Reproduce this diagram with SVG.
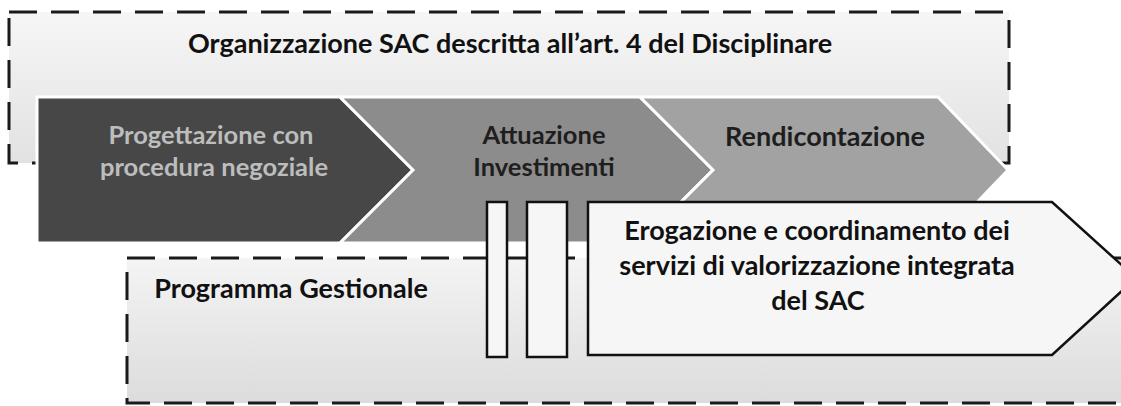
<svg xmlns="http://www.w3.org/2000/svg" width="1121" height="406" viewBox="0 0 1121 406">
<defs>
<linearGradient id="gBottom" x1="0" y1="0" x2="0" y2="1">
<stop offset="0" stop-color="#f4f4f4"/>
<stop offset="1" stop-color="#dcdcdc"/>
</linearGradient>
<linearGradient id="gTop" x1="0" y1="0" x2="0" y2="1">
<stop offset="0" stop-color="#f6f6f6"/>
<stop offset="1" stop-color="#e2e2e2"/>
</linearGradient>
</defs>
<style>
.t{font-family:Lato,"Open Sans","Liberation Sans",sans-serif;font-weight:bold;text-anchor:middle;font-size:27px;}
.c{font-size:25.5px;}
.dash{stroke:#1a1a1a;stroke-width:3;stroke-dasharray:28 14;}
.chev{stroke:#ffffff;stroke-width:3;stroke-linejoin:miter;}
.box{fill:#f6f6f6;stroke:#111;stroke-width:2.5;}
</style>
<rect width="1121" height="406" fill="#ffffff"/>

<g id="organizzazione">
<rect x="9" y="12" width="1000" height="151" fill="url(#gTop)" class="dash"/>
<text class="t" x="510" y="53" fill="#111">Organizzazione SAC descritta all’art. 4 del Disciplinare</text>
</g>

<g id="programma">
<rect x="127" y="258" width="1010" height="145" fill="url(#gBottom)" class="dash"/>
<text class="t" x="291" y="298" fill="#111">Programma Gestionale</text>
</g>

<g id="progettazione">
<polygon class="chev" points="37,97 340,97 413,170 340,243 37,243" fill="#474747"/>
<text class="t c" x="211" y="144" fill="#bdbdbd">Progettazione con</text>
<text class="t c" x="214" y="176" fill="#bdbdbd">procedura negoziale</text>
</g>

<g id="attuazione">
<polygon class="chev" points="340,97 640,97 713,170 640,243 340,243 413,170" fill="#8c8c8c"/>
<text class="t c" x="544" y="144" fill="#1e1e1e">Attuazione</text>
<text class="t c" x="544" y="176" fill="#1e1e1e">Investimenti</text>
</g>

<g id="rendicontazione">
<polygon class="chev" points="640,97 938,97 1008,170 938,243 640,243 713,170" fill="#a2a2a2"/>
<text class="t" x="825" y="146" fill="#1e1e1e">Rendicontazione</text>
</g>

<g id="barra1">
<rect class="box" x="487" y="202" width="20" height="155"/>
</g>
<g id="barra2">
<rect class="box" x="527" y="202" width="40" height="155"/>
</g>

<g id="erogazione">
<polygon class="box" points="588,202 1052,202 1136,278 1052,355 588,355"/>
<text class="t" x="817" y="240" fill="#111">Erogazione e coordinamento dei</text>
<text class="t" x="817" y="275" fill="#111">servizi di valorizzazione integrata</text>
<text class="t" x="818" y="310" fill="#111">del SAC</text>
</g>

<g id="connectors"></g>
</svg>
